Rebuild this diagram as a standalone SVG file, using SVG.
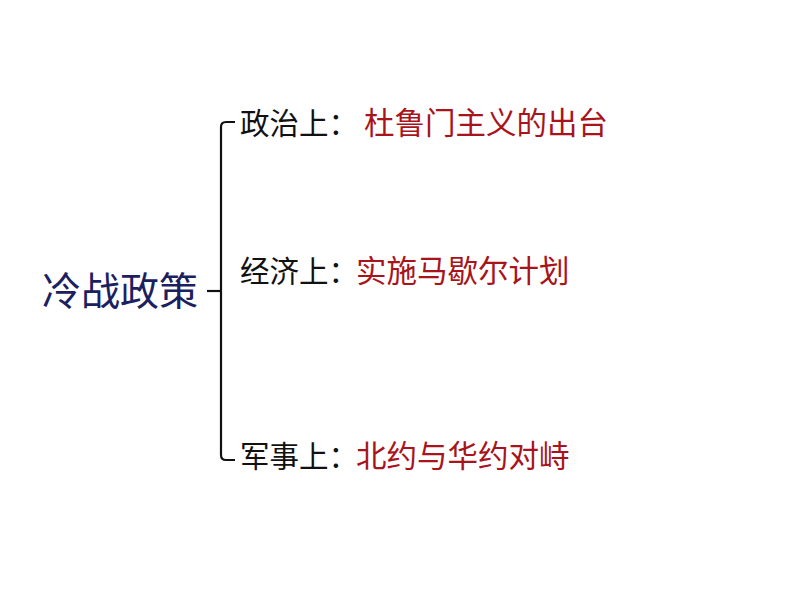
<svg xmlns="http://www.w3.org/2000/svg" width="794" height="596" viewBox="0 0 794 596">
<style>
text{font-family:"Noto Sans CJK SC","Noto Sans",sans-serif;}
.lbl{font-size:29.5px;fill:#111111;}
.val{font-size:30.5px;fill:#a8141b;}
.title{font-size:39px;fill:#1b2160;}
.brace{fill:none;stroke:#111111;stroke-width:2.2;}
</style>
<rect width="794" height="596" fill="#ffffff"/>
<g id="root"><text class="title" x="42" y="305">冷战政策</text></g>
<g id="connectors">
<path class="brace" d="M235,122 H226 Q221,122 221,127 V455 Q221,460 226,460 H235"/>
<path class="brace" d="M207,291 H221"/>
</g>
<g id="political"><text x="240" y="134"><tspan class="lbl">政治上：</tspan><tspan class="val" x="364">杜鲁门主义的出台</tspan></text></g>
<g id="economic"><text x="240" y="282"><tspan class="lbl">经济上：</tspan><tspan class="val" x="356">实施马歇尔计划</tspan></text></g>
<g id="military"><text x="240" y="467"><tspan class="lbl">军事上：</tspan><tspan class="val" x="356">北约与华约对峙</tspan></text></g>
</svg>
